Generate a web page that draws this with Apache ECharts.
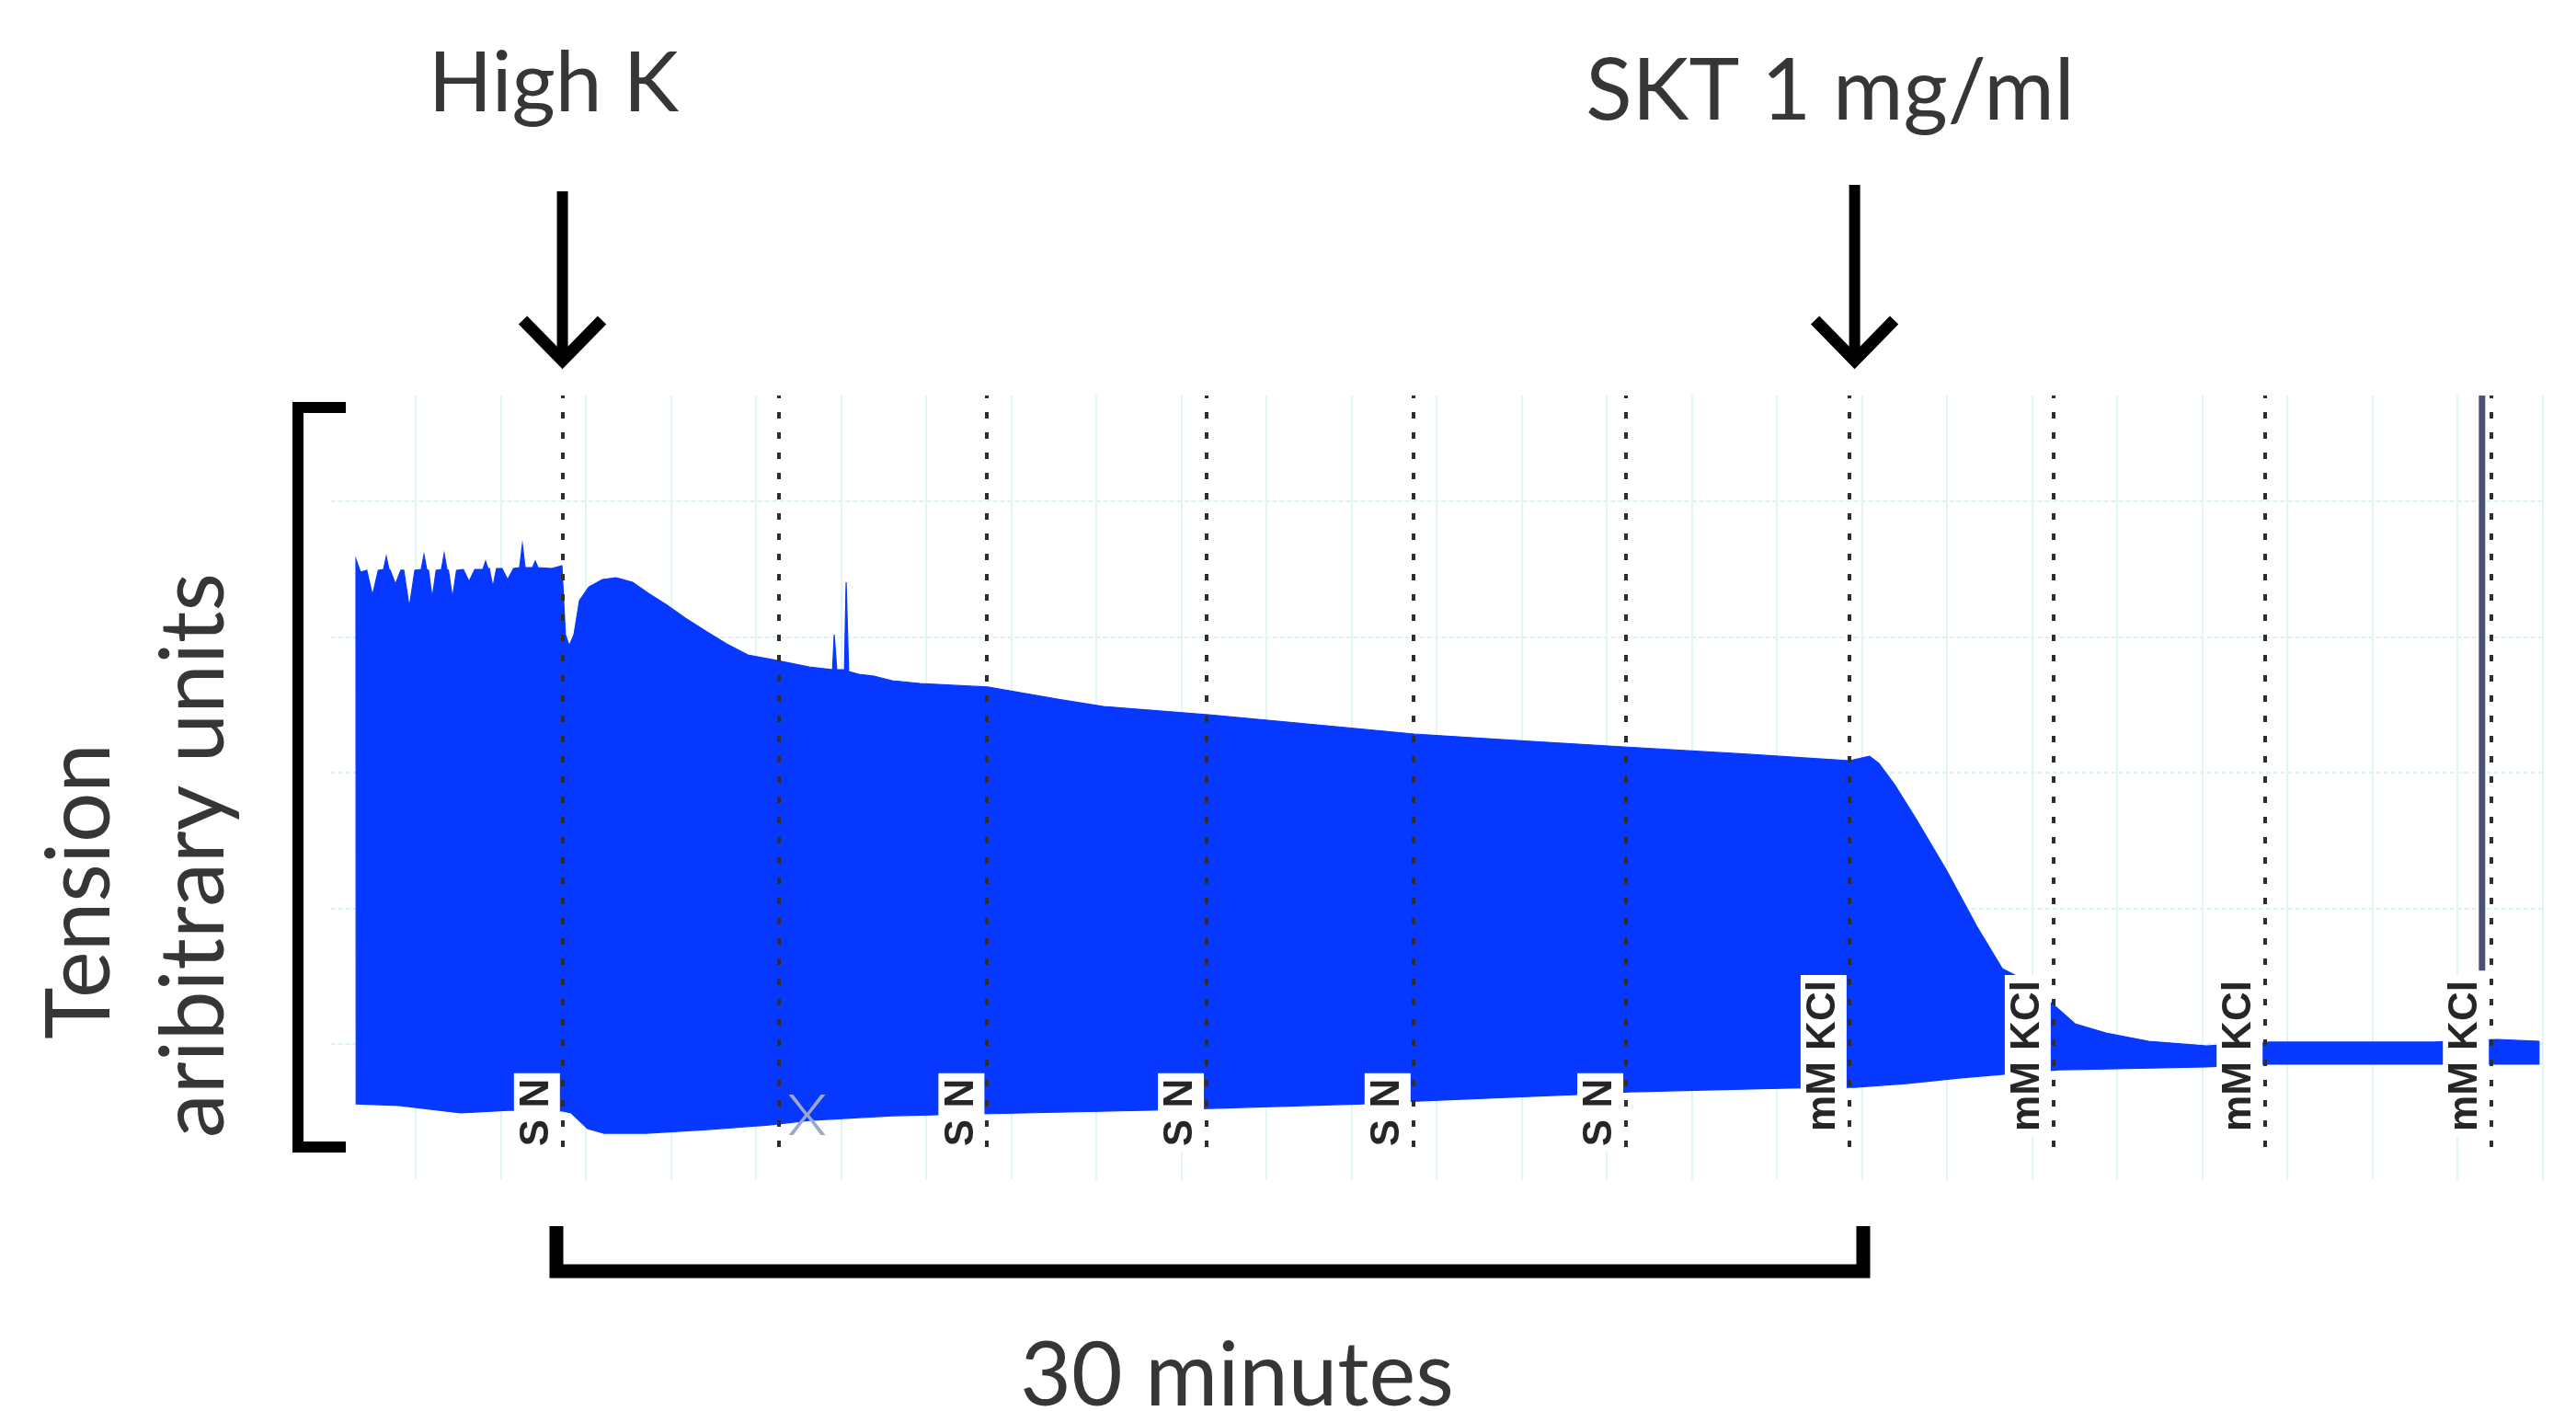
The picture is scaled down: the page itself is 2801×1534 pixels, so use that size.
<!DOCTYPE html>
<html>
<head>
<meta charset="utf-8">
<script src="https://cdn.jsdelivr.net/npm/echarts@6.0.0/dist/echarts.min.js"></script>
<style>
  html, body { margin: 0; padding: 0; background: #ffffff; }
  #chart { width: 2801px; height: 1534px; }
</style>
</head>
<body>
<div id="chart"></div>
<script>
// ---------- DATA ----------
// time in minutes, tension in arbitrary units
const timeUpper = [0.595, 0.703, 0.85, 0.984, 1.12, 1.243, 1.308, 1.373, 1.40, 1.524, 1.65, 1.72, 1.849, 1.98, 2.130, 2.195, 2.259, 2.30, 2.389, 2.48, 2.605, 2.670, 2.735, 2.77, 2.865, 2.96, 3.12, 3.254, 3.39, 3.578, 3.643, 3.708, 3.73, 3.816, 3.90, 4.03, 4.162, 4.30, 4.443, 4.508, 4.573, 4.746, 4.811, 4.876, 5.200, 5.438,
  5.52, 5.61, 5.72, 5.85, 6.07, 6.39, 6.71, 7.10, 7.47, 7.88, 8.34, 8.85, 9.31, 9.81, 10.50, 11.25, 11.80, 11.84, 11.90, 12.08, 12.12, 12.18, 12.42, 12.77, 13.20, 13.85, 15.45, 17.09, 18.17, 20.64, 22.50, 25.48, 27.90, 30.41, 33.31, 35.71, 36.18, 36.40, 36.77, 37.27, 38.00, 38.70, 39.30, 39.80, 40.57, 41.01, 41.74, 42.74, 44.10, 45.59, 46.95, 49.44, 50.93, 51.92];
const tensionUpper = [45.73, 44.78, 44.92, 43.08, 44.92, 44.98, 45.93, 44.98, 44.92, 43.90, 44.92, 44.92, 42.20, 44.92, 44.98, 46.07, 44.98, 44.92, 42.88, 44.92, 44.98, 46.14, 44.98, 44.92, 42.88, 44.92, 44.98, 44.10, 44.98, 44.98, 45.59, 44.98, 45.05, 43.69, 45.05, 45.05, 44.24, 45.05, 45.12, 46.81, 45.12, 45.12, 45.59, 45.12, 45.05, 45.25,
  40.17, 39.36, 40.17, 42.68, 43.69, 44.24, 44.37, 44.03, 43.22, 42.41, 41.39, 40.37, 39.49, 38.68, 38.27, 37.80, 37.59, 40.17, 37.59, 37.59, 44.03, 37.46, 37.25, 37.12, 36.78, 36.58, 36.31, 35.42, 34.88, 34.27, 33.73, 32.85, 32.37, 31.90, 31.36, 30.88, 31.22, 30.68, 29.12, 26.61, 22.75, 18.68, 15.56, 14.75, 12.71, 11.49, 10.81, 10.20, 9.86, 10.14, 10.14, 10.14, 10.34, 10.20];
const timeLower = [0.60, 1.61, 3.06, 4.27, 5.46, 5.65, 6.04, 6.43, 7.41, 8.85, 10.30, 11.25, 13.20, 14.28, 19.30, 20.66, 24.29, 25.65, 29.31, 30.52, 34.30, 35.84, 37.03, 38.28, 39.28, 40.64, 42.00, 44.10, 45.59, 51.92];
const tensionLower = [5.59, 5.46, 4.92, 5.12, 5.05, 4.92, 3.76, 3.42, 3.42, 3.69, 4.03, 4.37, 4.71, 4.78, 5.12, 5.25, 5.59, 5.80, 6.27, 6.47, 6.75, 6.81, 7.08, 7.49, 7.76, 8.10, 8.17, 8.31, 8.51, 8.51];

// event comments (dotted markers) in minutes
const eventTimes  = [5.45, 10.53, 15.43, 20.59, 25.45, 30.45, 35.70, 40.50, 45.48, 50.80];
const eventLabels = ['S N', '', 'S N', 'S N', 'S N', 'S N', 'mM KCl', 'mM KCl', 'mM KCl', 'mM KCl'];
const eventSpan   = [2.4, 57.8];

// cross mark after second event, vertical artifact near the end
const crossMark     = [11.2, 4.78];
const artifactTime  = 50.58;
const artifactSpan  = [15.4, 57.8];

// drug additions (arrows)
const additionNames = ['High K', 'SKT 1 mg/ml'];
const additionTimes = [5.45, 35.70];

// scale bar
const scaleBarMinutes = 30;
const scaleBarLabel = '30 minutes';
const yTitleLines = ['Tension', 'aribitrary units'];

// ---------- CHART ----------
const BLUE = '#0638ff';
const chart = echarts.init(document.getElementById('chart'), null, { renderer: 'canvas' });

const labelData = [];
eventTimes.forEach((t, i) => {
  if (eventLabels[i]) labelData.push({ value: [t - 0.6, eventLabels[i] === 'S N' ? 4.95 : 9.12], name: eventLabels[i] });
});

const option = {
  backgroundColor: '#ffffff',
  animation: false,
  grid: { left: 359.5, right: 36.5, top: 430, bottom: 251.5, containLabel: false },
  xAxis: {
    type: 'value', min: 0, max: 52, interval: 2,
    axisLine: { show: false }, axisTick: { show: false }, axisLabel: { show: false },
    splitLine: { show: true, showMinLine: false, lineStyle: { color: '#e1f4f6', width: 2 } }
  },
  yAxis: {
    type: 'value', min: 0, max: 57.8, interval: 10,
    axisLine: { show: false }, axisTick: { show: false }, axisLabel: { show: false },
    splitLine: { show: true, showMinLine: false, showMaxLine: false, lineStyle: { color: '#d9f3f2', width: 2, type: [5, 3] } }
  },
  series: [
    {
      type: 'custom',
      name: 'trace',
      coordinateSystem: 'cartesian2d',
      z: 2,
      silent: true,
      data: timeUpper.map((t, i) => [t, tensionUpper[i]]),
      renderItem: function (params, api) {
        if (params.dataIndex !== 0) return null;
        const pts = [];
        for (let i = 0; i < timeUpper.length; i++) pts.push(api.coord([timeUpper[i], tensionUpper[i]]));
        for (let i = timeLower.length - 1; i >= 0; i--) pts.push(api.coord([timeLower[i], tensionLower[i]]));
        return { type: 'polygon', shape: { points: pts }, style: { fill: BLUE, stroke: BLUE, lineWidth: 1.2 } };
      }
    },
    {
      type: 'line',
      name: 'artifact',
      z: 3,
      silent: true,
      symbol: 'none',
      data: [[artifactTime, artifactSpan[0]], [artifactTime, artifactSpan[1]]],
      lineStyle: { color: '#4c5178', width: 7 }
    },
    {
      type: 'line',
      name: 'events',
      z: 4,
      silent: true,
      data: [],
      markLine: {
        silent: true,
        symbol: ['none', 'none'],
        label: { show: false },
        lineStyle: { color: '#2e2e2e', width: 4, type: [7, 15] },
        data: eventTimes.map(t => [{ coord: [t, eventSpan[0]] }, { coord: [t, eventSpan[1]] }])
      }
    },
    {
      type: 'scatter',
      name: 'cross',
      z: 5,
      silent: true,
      symbol: 'path://M0,0 L3,0 L12,13 L21,0 L24,0 L13.5,14.5 L24,29 L21,29 L12,16 L3,29 L0,29 L10.5,14.5 Z',
      symbolSize: [40, 44],
      itemStyle: { color: '#9ba8cc', opacity: 1 },
      data: [crossMark]
    },
    {
      type: 'scatter',
      name: 'comments',
      z: 6,
      silent: true,
      symbolSize: 1,
      itemStyle: { color: 'rgba(0,0,0,0)', opacity: 1 },
      data: labelData,
      label: {
        show: true,
        position: 'inside',
        rotate: 90,
        formatter: p => p.name,
        fontFamily: 'Liberation Sans',
        fontWeight: 'bold',
        fontSize: 44,
        lineHeight: 44,
        color: '#262626',
        backgroundColor: '#ffffff',
        padding: [3, 6]
      }
    }
  ]
};
chart.setOption(option);

// ---------- ANNOTATIONS ----------
const px = t => chart.convertToPixel({ gridIndex: 0 }, [t, 0])[0];
const TEXT = '#363636';
const FONT = '96px Lato, "Noto Sans", sans-serif';
const graphics = [];

// addition labels and arrows
const textX = [602, 1990];
const textY = [92, 100];
const textFont = ['91px Lato, "Noto Sans", sans-serif', '93px Lato, "Noto Sans", sans-serif'];
additionNames.forEach((name, i) => {
  graphics.push({ type: 'text', x: textX[i], y: textY[i], style: { text: name, font: textFont[i], fill: TEXT, align: 'center', verticalAlign: 'middle' } });
  const ax = px(additionTimes[i]) + (i === 1 ? 6 : 0);
  const top = i === 0 ? 208 : 201;
  graphics.push({ type: 'line', shape: { x1: ax, y1: top, x2: ax, y2: 390 }, style: { stroke: '#000', lineWidth: 12 } });
  graphics.push({ type: 'polyline', shape: { points: [[ax - 43, 348], [ax, 392], [ax + 43, 348]] }, style: { stroke: '#000', lineWidth: 13, fill: null, lineJoin: 'miter', lineCap: 'butt' } });
});

// y bracket
graphics.push({ type: 'polyline', shape: { points: [[376, 443], [324, 443], [324, 1247], [376, 1247]] }, style: { stroke: '#000', lineWidth: 12, fill: null, lineJoin: 'miter' } });
// y title
graphics.push({ type: 'text', x: 88, y: 969, rotation: Math.PI / 2, style: { text: yTitleLines[0], font: FONT, fill: TEXT, align: 'center', verticalAlign: 'middle' } });
graphics.push({ type: 'text', x: 212, y: 930, rotation: Math.PI / 2, style: { text: yTitleLines[1], font: FONT, fill: TEXT, align: 'center', verticalAlign: 'middle' } });

// 30-minute scale bar
const sx0 = 605, sx1 = 2026;
graphics.push({ type: 'polyline', shape: { points: [[sx0, 1333], [sx0, 1382], [sx1, 1382], [sx1, 1333]] }, style: { stroke: '#000', lineWidth: 15, fill: null, lineJoin: 'miter' } });
graphics.push({ type: 'text', x: 1345, y: 1497, style: { text: scaleBarLabel, font: FONT, fill: TEXT, align: 'center', verticalAlign: 'middle' } });

chart.setOption({ graphic: { elements: graphics } });
</script>
</body>
</html>
